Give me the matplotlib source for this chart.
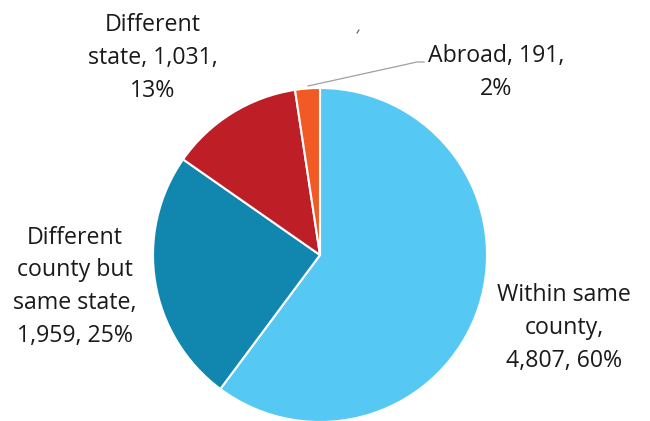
import matplotlib
matplotlib.use('Agg')
import matplotlib.pyplot as plt

plt.rcParams['font.family'] = ['Open Sans', 'DejaVu Sans']

# Data
categories = ['Within same county', 'Different county but same state', 'Different state', 'Abroad']
counts = [4807, 1959, 1031, 191]
percents = [60, 25, 13, 2]
colors = ['#55C8F4', '#1187B0', '#BE1E26', '#F15A24']

fig = plt.figure(figsize=(6.5, 4.21), dpi=100)
ax = fig.add_axes([0, 0, 1, 1])

ax.pie(counts, colors=colors, startangle=90, counterclock=False,
       center=(320, 166), radius=167, frame=True,
       wedgeprops=dict(edgecolor='white', linewidth=1.5))
ax.set_xlim(0, 650)
ax.set_ylim(0, 421)
ax.set_aspect('equal')
ax.axis('off')

# Labels (anchored at the baseline of the last line)
labels = [
    'Within same\ncounty,\n{:,}, {}%'.format(counts[0], percents[0]),
    'Different\ncounty but\nsame state,\n{:,}, {}%'.format(counts[1], percents[1]),
    'Different\nstate, {:,},\n{}%'.format(counts[2], percents[2]),
    'Abroad, {},\n{}%'.format(counts[3], percents[3]),
]
label_pos = [(564, 54), (75, 79), (153, 324), (496, 326)]
for txt, (x, y) in zip(labels, label_pos):
    ax.text(x, y, txt, ha='center', va='baseline', fontsize=16.7,
            linespacing=1.49, color='#1a1a1a')

# Leader line for Abroad
ax.plot([308, 417, 424], [335, 359, 359], color='#a0a0a0', linewidth=0.9)

# small stray tick from the original image
ax.plot([357, 359], [388, 391], color='#555555', linewidth=0.8)

fig.savefig('out.png', dpi=100)
